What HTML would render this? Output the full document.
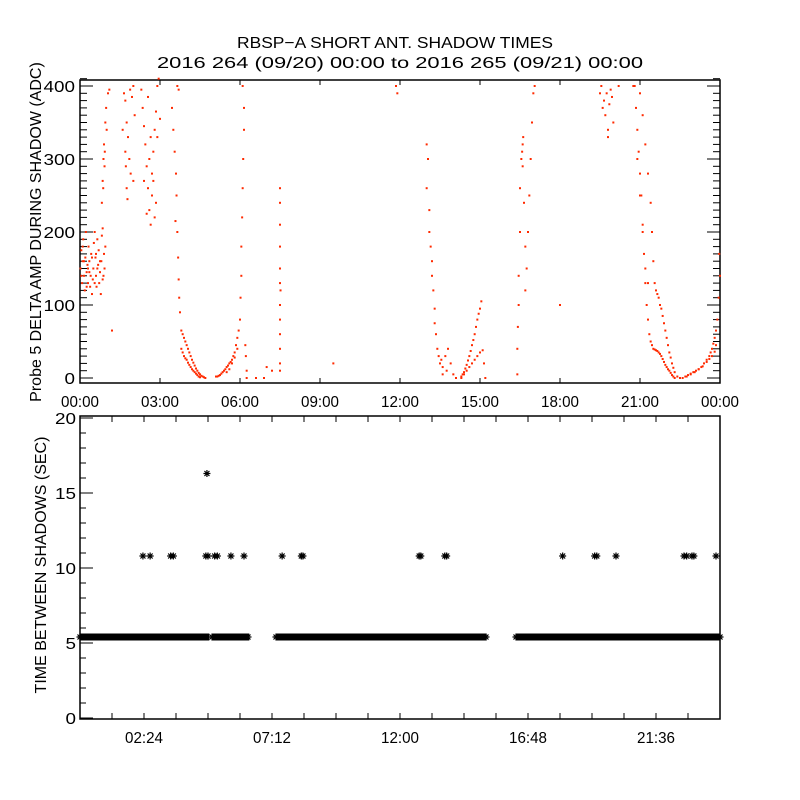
<!DOCTYPE html>
<html><head><meta charset="utf-8">
<style>
body{margin:0;background:#fff;}
svg{display:block;font-family:"Liberation Sans",sans-serif;}
text{fill:#000;font-size:16px;}
</style></head>
<body>
<svg id="chart" width="800" height="800" viewBox="0 0 800 800" xmlns="http://www.w3.org/2000/svg">
<rect width="800" height="800" fill="#fff"/>
<text x="237" y="48" font-size="18" textLength="316" lengthAdjust="spacingAndGlyphs">RBSP−A SHORT ANT. SHADOW TIMES</text>
<text x="157" y="68" font-size="18" textLength="486" lengthAdjust="spacingAndGlyphs">2016 264 (09/20) 00:00 to 2016 265 (09/21) 00:00</text>
<g id="top"></g>
<g id="bot"></g>
</svg>
<script>
const topXTicks = ["00:00","03:00","06:00","09:00","12:00","15:00","18:00","21:00","00:00"];
const topYTicks = [0,100,200,300,400];
const botXTicks = ["02:24","07:12","12:00","16:48","21:36"];
const botXTickHours = [2.4,7.2,12,16.8,21.6];
const botYTicks = [0,5,10,15,20];
// probe 5 delta amplitude points: hours
const ampHours = [0.02,0.05,0.08,0.1,0.12,0.15,0.18,0.2,0.22,0.25,0.28,0.3,0.32,0.35,0.38,0.4,0.42,0.45,0.48,0.5,0.52,0.55,0.58,0.6,0.62,0.65,0.68,0.7,0.72,0.75,0.78,0.8,0.82,0.85,0.88,0.9,0.92,0.95,0.05,0.15,0.25,0.35,0.45,0.55,0.65,0.75,0.85,0.1,0.3,0.6,
0.82,0.85,0.88,0.9,0.92,0.95,0.98,1.0,0.87,0.93,1.05,1.1,1.2,
1.65,1.7,1.75,1.7,1.72,1.75,1.78,1.8,1.85,1.9,1.95,2.0,2.05,1.88,1.6,2.0,
2.3,2.35,2.4,2.45,2.5,2.55,2.6,2.65,2.7,2.75,2.8,2.85,2.9,2.95,2.4,2.5,2.6,2.7,2.8,2.9,3.0,2.55,2.65,2.75,2.85,
3.45,3.5,3.55,3.6,3.62,3.58,3.65,3.68,3.7,3.72,3.75,3.65,3.7,
3.8,3.85,3.9,3.95,4.0,4.05,4.1,4.15,4.2,4.25,4.3,4.35,4.4,4.45,4.5,4.55,4.6,4.65,4.7,
3.8,3.85,3.9,3.95,4.0,4.05,4.1,4.15,4.2,4.25,4.3,4.35,4.4,4.45,4.5,
5.1,5.15,5.2,5.25,5.3,5.35,5.4,5.45,5.5,5.55,5.6,5.65,5.7,5.75,5.8,5.85,5.9,5.95,6.0,6.02,6.05,6.05,6.08,6.1,6.12,6.15,6.15,6.1,6.2,6.22,6.25,6.25,5.5,5.6,5.7,5.8,5.9,
6.6,6.9,7.0,7.2,
7.5,7.5,7.5,7.5,7.5,7.5,7.52,7.5,7.5,7.5,7.5,7.5,7.5,
9.5,11.85,11.9,
13.0,13.05,13.0,13.1,13.1,13.15,13.2,13.2,13.25,13.3,13.3,13.35,13.4,13.45,13.5,13.6,13.7,13.8,13.9,14.0,14.1,13.6,13.75,13.55,
14.3,14.35,14.4,14.45,14.5,14.55,14.6,14.65,14.7,14.75,14.8,14.85,14.9,14.95,15.0,15.05,
14.3,14.4,14.5,14.6,14.7,14.8,14.9,15.0,15.1,15.15,15.2,
16.4,16.4,16.42,16.45,16.45,16.5,16.5,16.55,16.6,16.6,16.65,16.7,16.75,16.7,16.8,16.85,16.9,16.95,17.0,17.05,16.62,16.58,
18.0,
19.5,19.55,19.6,19.65,19.7,19.75,19.8,19.85,19.9,19.95,20.0,19.8,20.2,
20.8,20.85,20.9,20.95,21.0,21.05,21.1,21.15,21.2,21.25,21.3,21.35,21.4,21.45,21.5,21.55,21.6,21.65,21.7,21.75,21.8,21.85,21.9,21.95,22.0,22.05,22.1,22.15,22.2,22.25,22.3,
21.0,21.1,21.2,21.3,21.4,21.45,21.5,21.55,21.6,21.65,21.7,21.75,21.8,21.85,21.9,21.95,22.0,22.05,22.1,22.15,22.2,22.25,22.3,22.4,22.5,
20.9,21.0,21.1,21.2,21.3,20.75,
22.6,22.7,22.8,22.9,23.0,23.1,23.2,23.3,23.4,23.5,23.6,23.65,23.7,23.75,23.8,23.85,23.9,23.95,24.0,23.97,
22.75,22.9,23.05,23.2,23.35,23.5,23.6,23.7,23.8,23.85];
// probe 5 delta amplitude points: values (ADC)
const ampValues = [150,175,130,160,190,140,120,165,200,145,155,130,180,160,125,140,170,115,135,150,185,200,165,140,125,190,155,175,130,145,115,160,195,205,140,170,150,180,140,160,125,145,165,130,150,160,135,180,150,170,
240,270,300,320,290,350,370,340,260,310,390,395,65,
390,380,350,310,290,260,245,330,300,280,385,400,360,395,340,270,
395,370,345,320,290,260,230,210,280,310,340,365,400,410,270,225,300,250,220,330,355,385,330,270,240,
370,340,310,280,250,215,200,165,135,110,90,400,395,
65,60,55,50,45,40,35,30,25,21,17,13,10,7,5,3,2,1,0,
40,35,30,27,25,21,18,15,12,10,8,6,4,2,1,
2,2,3,4,6,8,10,12,15,17,20,22,25,30,35,45,55,65,80,110,140,180,220,260,300,340,370,400,45,30,10,0,8,12,20,28,40,
0,0,15,10,
260,240,210,180,150,130,120,100,80,60,40,20,10,
20,400,390,
320,300,260,230,200,180,160,140,120,95,75,60,40,30,20,15,30,40,20,5,0,5,10,25,
2,5,8,13,18,24,30,37,45,52,60,70,80,88,95,105,
0,5,10,15,20,25,30,35,38,20,0,
5,40,70,100,140,200,260,300,320,290,240,180,150,120,200,250,300,350,390,400,330,310,
100,
390,400,370,380,360,390,340,375,395,385,350,330,400,
400,370,340,310,280,250,210,170,130,100,80,60,50,45,40,39,38,37,35,33,30,26,22,18,15,12,10,7,4,2,0,
390,360,320,280,240,200,160,130,120,115,110,100,95,85,75,65,55,45,35,28,20,14,8,2,0,
300,250,200,150,130,400,
0,2,4,6,8,10,12,15,20,25,30,35,40,47,55,65,80,110,140,170,
2,5,8,12,16,22,26,30,36,45];
// time between shadows: continuous ~5.4 s bands (start/end hours)
const bandStarts = [0.0,4.95,7.35,16.35];
const bandEnds = [4.85,6.35,15.25,24.0];
const bandValue = 5.4;
// isolated longer gaps
const gapHours = [2.36,2.63,3.4,3.5,4.72,4.8,5.05,5.15,5.66,6.15,7.58,8.3,8.36,12.72,12.78,13.68,13.75,18.1,19.3,19.38,20.1,22.65,22.75,22.95,23.02,23.85,4.76];
const gapValues = [10.8,10.8,10.8,10.8,10.8,10.8,10.8,10.8,10.8,10.8,10.8,10.8,10.8,10.8,10.8,10.8,10.8,10.8,10.8,10.8,10.8,10.8,10.8,10.8,10.8,10.8,16.3];

const NS="http://www.w3.org/2000/svg";
function mk(tag,attrs,parent){const e=document.createElementNS(NS,tag);for(const k in attrs)e.setAttribute(k,attrs[k]);parent.appendChild(e);return e;}
const X0=80,X1=720;
const hx=h=>X0+(h/24)*(X1-X0);
const T=document.getElementById('top');
const tY0=80,tY1=383;
const ty=v=>378-v*0.73;
const tb=mk('rect',{x:X0,y:tY0,width:X1-X0,height:tY1-tY0,fill:'none',stroke:'#000','stroke-width':1.5},T);


for(let v=0;v<=410;v+=10){
  const len=(v%100===0)?13:7;
  mk('line',{x1:X0,x2:X0+len,y1:ty(v),y2:ty(v),stroke:'#000'},T);
  mk('line',{x1:X1,x2:X1-len,y1:ty(v),y2:ty(v),stroke:'#000'},T);
}
topYTicks.forEach(v=>{
  const s=String(v);
  const t=mk('text',{x:75-s.length*10.5,y:ty(v)+6,textLength:s.length*10.5,lengthAdjust:'spacingAndGlyphs'},T);t.textContent=s;
  
  
});
topXTicks.forEach((s,i)=>{
  const x=hx(i*3);
  mk('line',{x1:x,x2:x,y1:tY1,y2:tY1-5,stroke:'#000'},T);
  mk('line',{x1:x,x2:x,y1:tY0,y2:tY0+5,stroke:'#000'},T);
  const t=mk('text',{x:x-19,y:407,textLength:38,lengthAdjust:'spacingAndGlyphs'},T);t.textContent=s;
  
  
});
const tl=mk('text',{transform:'translate(41,232) rotate(-90)','text-anchor':'middle','font-size':'14'},T);
tl.textContent='Probe 5 DELTA AMP DURING SHADOW (ADC)';


ampHours.forEach((h,i)=>{
  const v=ampValues[i];
  const d=mk('rect',{x:hx(h)-1,y:ty(v)-1,width:2,height:2,fill:'#ff2a00'},T);
  
  
});
const B=document.getElementById('bot');
const bY0=416,bY1=719;
const by=v=>718-v*15;
const bb=mk('rect',{x:X0,y:bY0,width:X1-X0,height:bY1-bY0,fill:'none',stroke:'#000','stroke-width':1.5},B);


for(let v=0;v<=20;v+=1){
  const len=(v%5===0)?13:6;
  mk('line',{x1:X0,x2:X0+len,y1:by(v),y2:by(v),stroke:'#000'},B);
}
botYTicks.forEach(v=>{
  const s=String(v);
  const t=mk('text',{x:76-s.length*10.5,y:by(v)+6,textLength:s.length*10.5,lengthAdjust:'spacingAndGlyphs'},B);t.textContent=s;
  
  
});
for(let h=1.2;h<24;h+=1.2){
  const x=hx(h);
  mk('line',{x1:x,x2:x,y1:bY1,y2:bY1-6,stroke:'#000'},B);
  mk('line',{x1:x,x2:x,y1:bY0,y2:bY0+6,stroke:'#000'},B);
}
botXTicks.forEach((s,i)=>{
  const t=mk('text',{x:hx(botXTickHours[i])-19,y:743,textLength:38,lengthAdjust:'spacingAndGlyphs'},B);t.textContent=s;
  
  
});
const bl=mk('text',{transform:'translate(46,565) rotate(-90)','text-anchor':'middle','font-size':'14'},B);
bl.textContent='TIME BETWEEN SHADOWS (SEC)';


function star(x,y,name){
  const g=mk('path',{d:`M${x-3.5} ${y}H${x+3.5}M${x} ${y-3.5}V${y+3.5}M${x-2.5} ${y-2.5}L${x+2.5} ${y+2.5}M${x-2.5} ${y+2.5}L${x+2.5} ${y-2.5}`,stroke:'#000','stroke-width':1.2,fill:'none'},B);
  
  
}
bandStarts.forEach((s,i)=>{
  const a=hx(s),b=hx(bandEnds[i]);
  const r=mk('rect',{x:a,y:by(bandValue)-3.5,width:b-a,height:7,fill:'#000'},B);
  
  
  for(let x=a;x<=b;x+=6)star(x,by(bandValue),'shadow-interval-point');
});
gapHours.forEach((h,i)=>star(hx(h),by(gapValues[i]),'long-interval-point'));
</script>
</body></html>
